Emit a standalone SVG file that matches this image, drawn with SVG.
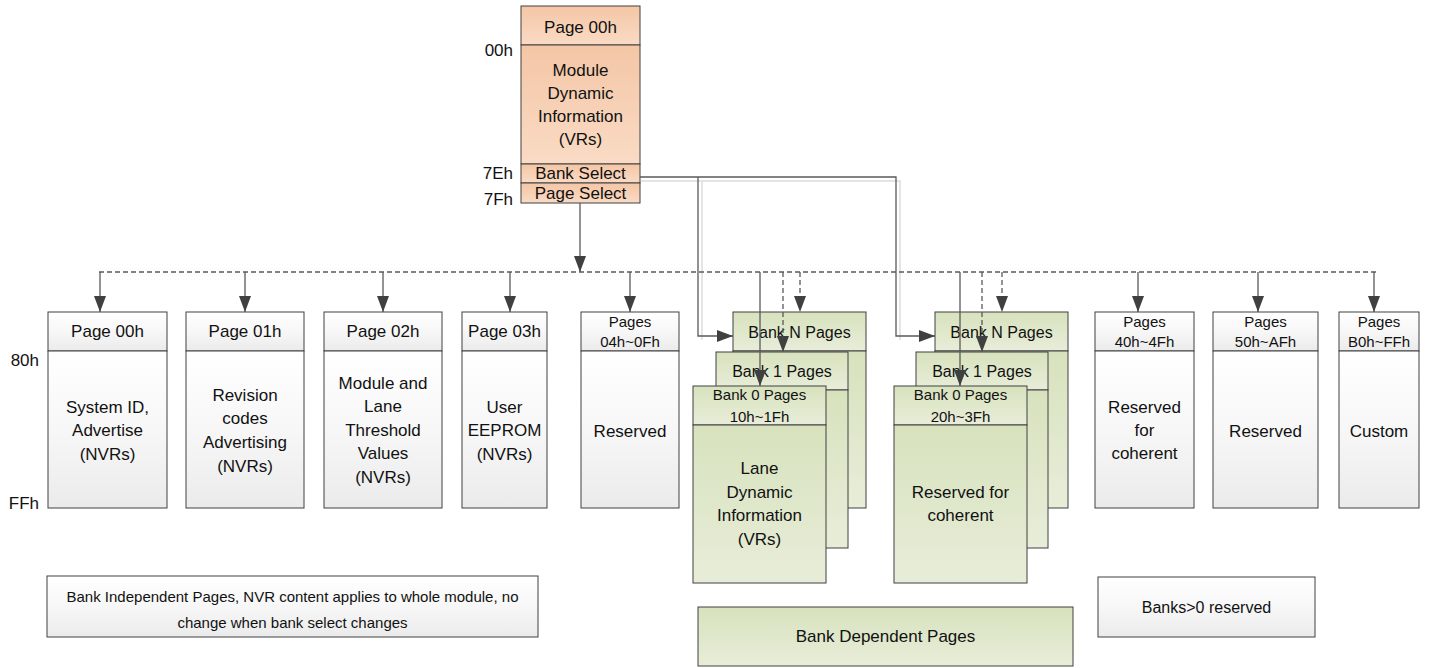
<svg xmlns="http://www.w3.org/2000/svg" width="1436" height="668" viewBox="0 0 1436 668">
<style>
text{font-family:"Liberation Sans",Arial,sans-serif;fill:#111;text-anchor:middle}
.f17{font-size:17px}
.f16{font-size:16px}
.f15{font-size:15px}
.lbl{font-size:17px;text-anchor:end}
.gray{fill:url(#gGray);stroke:#404040;stroke-width:1}
.org{fill:url(#gOrg);stroke:#404040;stroke-width:1}
.grn{fill:url(#gGrn);stroke:#404040;stroke-width:1}
.ln{fill:none;stroke:#595959;stroke-width:1.3}
.dash{fill:none;stroke:#595959;stroke-width:1.3;stroke-dasharray:5 3}
.shadow{fill:none;stroke:#dcdcdc;stroke-width:1.5}
</style>
<defs>
<linearGradient id="gGray" x1="0" y1="0" x2="0" y2="1"><stop offset="0" stop-color="#ffffff"/><stop offset="0.5" stop-color="#f7f7f7"/><stop offset="1" stop-color="#ebebeb"/></linearGradient>
<linearGradient id="gOrg" x1="0" y1="0" x2="0" y2="1"><stop offset="0" stop-color="#F4C6A5"/><stop offset="1" stop-color="#FADBC5"/></linearGradient>
<linearGradient id="gGrn" x1="0" y1="0" x2="0" y2="1"><stop offset="0" stop-color="#D7E2BD"/><stop offset="1" stop-color="#E8EDD9"/></linearGradient>
<marker id="arr" viewBox="0 0 16 12" refX="16" refY="6" markerWidth="16" markerHeight="12" markerUnits="userSpaceOnUse" orient="auto"><path d="M0,0 L16,6 L0,12 z" fill="#404040"/></marker>
</defs>
<rect width="1436" height="668" fill="#ffffff"/>

<!-- top module box -->
<g id="page00-lower">
<rect class="org" x="521" y="6" width="119" height="39"/>
<rect class="org" x="521" y="45" width="119" height="119"/>
<rect class="org" x="521" y="164" width="119" height="19"/>
<rect class="org" x="521" y="183" width="119" height="20"/>
<text class="f17" x="580.5" y="33">Page 00h</text>
<text class="f17" x="580.5" y="76">Module</text>
<text class="f17" x="580.5" y="99">Dynamic</text>
<text class="f17" x="580.5" y="122">Information</text>
<text class="f17" x="580.5" y="145">(VRs)</text>
<text class="f17" x="580.5" y="179">Bank Select</text>
<text class="f17" x="580.5" y="199">Page Select</text>
</g>
<g id="addr-labels">
<text class="lbl" x="513" y="56">00h</text>
<text class="lbl" x="513" y="179">7Eh</text>
<text class="lbl" x="513" y="205">7Fh</text>
<text class="lbl" x="39" y="366">80h</text>
<text class="lbl" x="39" y="509">FFh</text>
</g>

<!-- bank independent pages -->
<g id="p00">
<rect class="gray" x="48" y="312" width="119" height="39"/>
<rect class="gray" x="48" y="351" width="119" height="157"/>
<text class="f17" x="107.5" y="337">Page 00h</text>
<text class="f17" x="107.5" y="413">System ID,</text>
<text class="f17" x="107.5" y="436">Advertise</text>
<text class="f17" x="107.5" y="460">(NVRs)</text>
</g>
<g id="p01">
<rect class="gray" x="186" y="312" width="118" height="39"/>
<rect class="gray" x="186" y="351" width="118" height="157"/>
<text class="f17" x="245" y="337">Page 01h</text>
<text class="f17" x="245" y="401">Revision</text>
<text class="f17" x="245" y="424">codes</text>
<text class="f17" x="245" y="448">Advertising</text>
<text class="f17" x="245" y="472">(NVRs)</text>
</g>
<g id="p02">
<rect class="gray" x="324" y="312" width="118" height="39"/>
<rect class="gray" x="324" y="351" width="118" height="157"/>
<text class="f17" x="383" y="337">Page 02h</text>
<text class="f17" x="383" y="389">Module and</text>
<text class="f17" x="383" y="412">Lane</text>
<text class="f17" x="383" y="436">Threshold</text>
<text class="f17" x="383" y="459">Values</text>
<text class="f17" x="383" y="483">(NVRs)</text>
</g>
<g id="p03">
<rect class="gray" x="462" y="312" width="85" height="39"/>
<rect class="gray" x="462" y="351" width="85" height="157"/>
<text class="f17" x="504.5" y="337">Page 03h</text>
<text class="f17" x="504.5" y="413">User</text>
<text class="f17" x="504.5" y="436">EEPROM</text>
<text class="f17" x="504.5" y="460">(NVRs)</text>
</g>
<g id="p04-0f">
<rect class="gray" x="581" y="312" width="98" height="39"/>
<rect class="gray" x="581" y="351" width="98" height="157"/>
<text class="f15" x="630" y="327">Pages</text>
<text class="f15" x="630" y="347">04h~0Fh</text>
<text class="f17" x="630" y="437">Reserved</text>
</g>

<!-- bank dependent stack 1 -->
<g id="bankN-a">
<rect class="grn" x="733" y="312" width="133" height="39"/>
<rect class="grn" x="733" y="351" width="133" height="157"/>
<text class="f16" x="799.5" y="338">Bank N Pages</text>
</g>
<g id="bank1-a">
<rect class="grn" x="716" y="352" width="132" height="38"/>
<rect class="grn" x="716" y="390" width="132" height="158"/>
<text class="f16" x="782" y="377">Bank 1 Pages</text>
</g>
<g id="bank0-a">
<rect class="grn" x="693" y="386" width="133" height="39"/>
<rect class="grn" x="693" y="425" width="133" height="158"/>
<text class="f15" x="759.5" y="400">Bank 0 Pages</text>
<text class="f15" x="759.5" y="422">10h~1Fh</text>
<text class="f17" x="759.5" y="474">Lane</text>
<text class="f17" x="759.5" y="498">Dynamic</text>
<text class="f17" x="759.5" y="521">Information</text>
<text class="f17" x="759.5" y="545">(VRs)</text>
</g>

<!-- bank dependent stack 2 -->
<g id="bankN-b">
<rect class="grn" x="935" y="312" width="133" height="39"/>
<rect class="grn" x="935" y="351" width="133" height="157"/>
<text class="f16" x="1001.5" y="338">Bank N Pages</text>
</g>
<g id="bank1-b">
<rect class="grn" x="916" y="352" width="132" height="38"/>
<rect class="grn" x="916" y="390" width="132" height="158"/>
<text class="f16" x="982" y="377">Bank 1 Pages</text>
</g>
<g id="bank0-b">
<rect class="grn" x="894" y="386" width="133" height="39"/>
<rect class="grn" x="894" y="425" width="133" height="158"/>
<text class="f15" x="960.5" y="400">Bank 0 Pages</text>
<text class="f15" x="960.5" y="422">20h~3Fh</text>
<text class="f17" x="960.5" y="498">Reserved for</text>
<text class="f17" x="960.5" y="521">coherent</text>
</g>

<!-- right pages -->
<g id="p40-4f">
<rect class="gray" x="1095" y="312" width="99" height="39"/>
<rect class="gray" x="1095" y="351" width="99" height="157"/>
<text class="f15" x="1144.5" y="327">Pages</text>
<text class="f15" x="1144.5" y="347">40h~4Fh</text>
<text class="f17" x="1144.5" y="413">Reserved</text>
<text class="f17" x="1144.5" y="436">for</text>
<text class="f17" x="1144.5" y="459">coherent</text>
</g>
<g id="p50-af">
<rect class="gray" x="1213" y="312" width="105" height="39"/>
<rect class="gray" x="1213" y="351" width="105" height="157"/>
<text class="f15" x="1265.5" y="327">Pages</text>
<text class="f15" x="1265.5" y="347">50h~AFh</text>
<text class="f17" x="1265.5" y="437">Reserved</text>
</g>
<g id="pb0-ff">
<rect class="gray" x="1339" y="312" width="80" height="39"/>
<rect class="gray" x="1339" y="351" width="80" height="157"/>
<text class="f15" x="1379" y="327">Pages</text>
<text class="f15" x="1379" y="347">B0h~FFh</text>
<text class="f17" x="1379" y="437">Custom</text>
</g>

<!-- legend boxes -->
<g id="legend-independent">
<rect class="gray" x="47" y="576" width="491" height="61"/>
<text class="f15" x="292.5" y="602">Bank Independent Pages, NVR content applies to whole module, no</text>
<text class="f15" x="292.5" y="628">change when bank select changes</text>
</g>
<g id="legend-dependent">
<rect class="grn" x="698" y="607" width="375" height="59"/>
<text class="f17" x="885.5" y="642">Bank Dependent Pages</text>
</g>
<g id="legend-reserved">
<rect class="gray" x="1098" y="577" width="217" height="60"/>
<text class="f16" x="1206.5" y="613">Banks&gt;0 reserved</text>
</g>

<!-- connectors -->
<g id="connectors">
<polyline class="shadow" points="641,181 900,181 900,340"/>
<polyline class="shadow" points="702,181 702,340"/>
<line class="ln" x1="580" y1="203" x2="580" y2="272" marker-end="url(#arr)"/>
<line class="dash" x1="99" y1="272" x2="1379" y2="272"/>
<line class="ln" x1="100" y1="272" x2="100" y2="312" marker-end="url(#arr)"/>
<line class="ln" x1="245" y1="272" x2="245" y2="312" marker-end="url(#arr)"/>
<line class="ln" x1="383" y1="272" x2="383" y2="312" marker-end="url(#arr)"/>
<line class="ln" x1="510" y1="272" x2="510" y2="312" marker-end="url(#arr)"/>
<line class="ln" x1="630" y1="272" x2="630" y2="312" marker-end="url(#arr)"/>
<line class="ln" x1="1138" y1="272" x2="1138" y2="312" marker-end="url(#arr)"/>
<line class="ln" x1="1258" y1="272" x2="1258" y2="312" marker-end="url(#arr)"/>
<line class="ln" x1="1374" y1="272" x2="1374" y2="312" marker-end="url(#arr)"/>
<polyline class="ln" points="640,177 896,177 896,336 935,336" marker-end="url(#arr)"/>
<polyline class="ln" points="698,177 698,336 733,336" marker-end="url(#arr)"/>
<line class="ln" x1="760" y1="272" x2="760" y2="386" marker-end="url(#arr)"/>
<line class="dash" x1="783" y1="272" x2="783" y2="352" marker-end="url(#arr)"/>
<line class="dash" x1="800" y1="272" x2="800" y2="312" marker-end="url(#arr)"/>
<line class="ln" x1="960" y1="272" x2="960" y2="386" marker-end="url(#arr)"/>
<line class="dash" x1="982" y1="272" x2="982" y2="352" marker-end="url(#arr)"/>
<line class="dash" x1="1002" y1="272" x2="1002" y2="312" marker-end="url(#arr)"/>
</g>
</svg>
